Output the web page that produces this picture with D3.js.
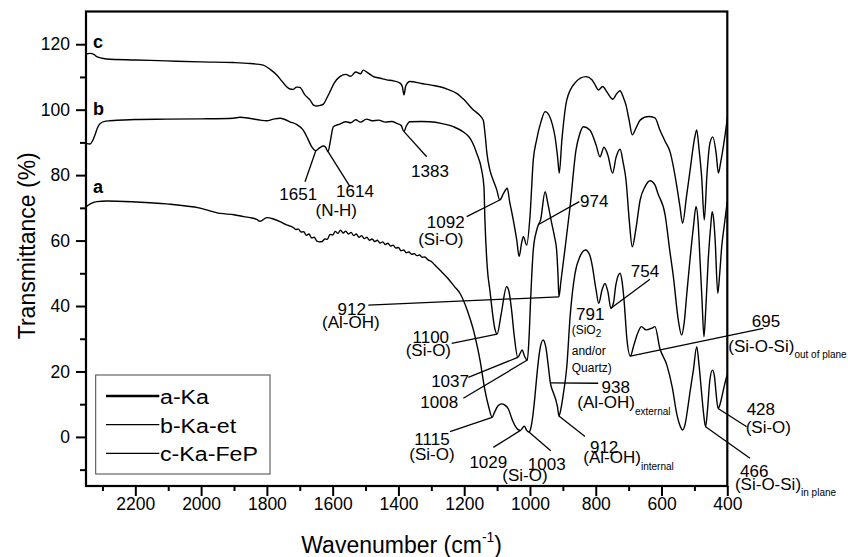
<!DOCTYPE html>
<html>
<head>
<meta charset="utf-8">
<script src="https://cdn.jsdelivr.net/npm/d3@7"></script>
<style>
  body { margin: 0; background: #fff; }
  svg text { font-family: "Liberation Sans", Arial, Helvetica, sans-serif; fill: #000; }
</style>
</head>
<body>
<svg id="chart" width="848" height="557"></svg>
<script>
// FTIR spectra: [wavenumber (cm-1), transmittance (%)], offset vertically per sample
const kaSeries = [
  [2350,70.3],[2337,71.2],[2317,71.9],[2287,72.1],[2200,71.8],[2105,71.2],[2003,69.9],[1942,68.3],[1900,67.9],
  [1870,67.3],[1845,66.9],[1831,66.5],[1821,65.9],[1800,67.0],[1780,66.6],[1760,65.8],[1740,64.8],[1728,64.4],
  [1720,64.0],[1712,63.4],[1704,63.5],[1696,62.6],[1688,62.7],[1680,61.6],[1672,62.0],[1664,60.8],[1656,61.0],
  [1648,59.8],[1640,59.6],[1632,59.7],[1624,60.5],[1616,60.4],[1608,61.9],[1600,61.7],[1592,62.8],[1584,62.2],
  [1576,63.2],[1568,62.3],[1560,62.9],[1552,62.0],[1544,62.5],[1536,61.5],[1528,62.0],[1520,61.0],[1512,61.5],
  [1504,60.6],[1496,61.0],[1488,60.1],[1480,60.5],[1472,59.7],[1464,60.1],[1456,59.2],[1448,59.6],[1440,58.8],
  [1432,59.2],[1424,58.3],[1416,58.6],[1408,57.7],[1400,57.9],[1392,56.9],[1384,57.1],[1376,56.3],[1368,56.5],
  [1360,55.8],[1352,56.0],[1344,55.4],[1336,55.6],[1328,54.9],[1320,55.0],[1310,54.1],[1300,53.6],[1290,52.6],
  [1274,51.0],[1250,48.5],[1230,46.0],[1213,43.9],[1190,38.5],[1172,32.7],[1160,27.5],[1152,23.5],[1137,14.3],
  [1125,9.0],[1115,6.0],[1108,7.5],[1097,9.5],[1086,10.1],[1077,9.8],[1066,8.6],[1053,5.0],[1040,2.6],[1029,2.0],
  [1017,3.3],[1010,2.0],[1003,1.5],[998,2.5],[991,6.7],[985,12.3],[979,18.9],[970,26.6],[960,29.6],[952,27.5],
  [944,21.5],[938,16.5],[930,13.8],[922,11.5],[916,9.0],[912,6.4],[906,8.5],[899,12.8],[888,21.5],[878,36.7],
  [863,50.0],[848,55.1],[831,57.1],[818,55.5],[811,52.5],[799,44.9],[791,40.8],[781,44.9],[772,46.9],[763,44.3],
  [754,39.3],[746,41.0],[739,46.4],[726,50.0],[720,47.5],[714,41.8],[705,29.6],[695,24.7],[684,28.1],[672,31.8],
  [661,33.7],[647,32.7],[630,33.2],[620,33.7],[605,27.0],[584,22.0],[567,15.0],[554,7.2],[544,3.5],[536,2.1],
  [528,4.0],[520,9.0],[514,13.3],[503,20.5],[493,27.6],[486,22.0],[478,13.3],[472,7.0],[466,3.1],[460,8.5],
  [453,17.4],[445,20.4],[439,18.5],[435,14.3],[428,8.7],[422,10.0],[412,14.3],[402,18.4],[400,19.0]
];

const kaEtSeries = [
  [2350,89.7],[2338,89.5],[2330,90.5],[2323,92.2],[2315,94.5],[2307,95.8],[2290,96.5],[2277,96.6],[2200,97.0],
  [2105,97.1],[2000,97.2],[1902,97.4],[1882,97.7],[1850,97.3],[1820,96.8],[1800,96.6],[1780,97.1],[1760,97.4],
  [1745,97.0],[1730,96.3],[1710,95.5],[1690,93.8],[1675,91.0],[1664,88.7],[1651,87.5],[1640,88.3],[1628,88.9],
  [1622,88.6],[1614,87.2],[1606,91.0],[1598,94.8],[1578,95.6],[1560,96.3],[1545,96.0],[1530,96.9],[1515,96.2],
  [1497,97.1],[1480,96.6],[1460,96.8],[1440,96.2],[1420,96.4],[1405,95.8],[1392,95.2],[1383,93.3],[1376,95.0],
  [1365,96.3],[1330,96.4],[1304,96.3],[1270,95.8],[1233,94.8],[1200,93.0],[1182,91.2],[1162,86.7],[1147,81.6],
  [1140,76.5],[1137,66.3],[1130,52.0],[1122,44.9],[1106,32.7],[1100,31.4],[1088,37.3],[1071,45.9],[1064,44.5],
  [1056,38.8],[1048,31.0],[1037,24.3],[1030,25.5],[1024,26.6],[1016,24.5],[1008,23.5],[1003,30.0],[998,42.0],
  [990,57.1],[980,63.0],[974,64.9],[968,66.2],[954,74.9],[946,71.5],[934,65.3],[925,61.0],[919,57.1],[915,50.0],
  [912,42.8],[906,47.5],[894,57.1],[878,70.4],[860,87.7],[849,92.5],[838,94.8],[818,93.8],[799,89.2],[787,85.6],
  [775,88.5],[763,86.1],[749,80.6],[738,85.5],[726,87.9],[717,84.0],[708,78.5],[698,66.0],[689,58.1],[678,63.5],
  [665,72.4],[650,76.5],[635,78.3],[620,77.0],[611,74.4],[589,67.8],[575,57.0],[564,49.0],[549,35.7],[539,31.1],
  [531,35.0],[523,43.9],[503,64.2],[495,70.4],[489,66.0],[483,54.1],[477,42.0],[471,30.6],[465,40.0],[458,54.1],
  [450,65.0],[446,68.8],[441,66.0],[437,60.2],[429,43.9],[423,50.0],[417,58.1],[410,64.0],[402,70.4],[400,72.0]
];

const kaFePSeries = [
  [2350,117.0],[2338,117.2],[2325,116.8],[2317,116.2],[2300,115.7],[2287,115.5],[2200,115.2],[2105,114.9],
  [2000,114.6],[1902,114.4],[1850,114.1],[1811,113.6],[1790,112.3],[1770,110.6],[1755,108.8],[1740,107.0],
  [1730,106.3],[1720,106.2],[1710,106.9],[1700,106.8],[1685,104.6],[1669,103.0],[1658,101.4],[1648,101.1],
  [1638,101.3],[1628,101.7],[1618,103.5],[1608,105.5],[1595,108.2],[1578,110.1],[1560,110.8],[1545,110.2],
  [1530,111.5],[1515,111.0],[1507,112.1],[1495,111.4],[1476,110.1],[1455,109.6],[1436,109.1],[1415,108.8],
  [1395,108.1],[1388,107.0],[1383,104.5],[1378,107.2],[1365,108.6],[1330,108.0],[1300,107.5],[1274,107.0],
  [1250,106.2],[1223,105.0],[1200,103.0],[1172,99.9],[1155,98.5],[1142,96.8],[1136,92.0],[1131,86.7],
  [1122,81.6],[1112,78.5],[1101,75.5],[1092,72.4],[1080,74.5],[1069,76.0],[1062,72.0],[1055,68.5],[1051,66.4],
  [1040,60.0],[1033,55.1],[1025,59.5],[1020,61.2],[1010,58.6],[1000,67.3],[990,84.6],[980,90.7],[966,96.5],
  [954,99.4],[942,98.3],[932,95.5],[924,91.8],[916,85.5],[911,80.6],[903,90.7],[888,103.0],[863,108.2],
  [830,110.1],[811,109.1],[800,107.2],[792,106.0],[779,107.1],[766,105.4],[748,103.2],[737,104.8],[726,105.8],
  [717,104.0],[708,101.4],[698,96.5],[689,92.3],[677,94.5],[665,96.8],[640,97.9],[620,97.5],[605,93.8],
  [590,90.5],[574,87.1],[555,77.5],[544,70.4],[536,65.3],[524,73.5],[513,81.6],[500,91.0],[493,93.8],[486,88.0],
  [478,79.5],[470,66.3],[462,80.0],[453,89.7],[444,91.7],[434,86.7],[427,80.6],[420,84.0],[412,88.7],
  [402,95.8],[400,97.5]
];

const xMajorTicks = [2200, 2000, 1800, 1600, 1400, 1200, 1000, 800, 600, 400];
const xMinorTicks = [2300, 2100, 1900, 1700, 1500, 1300, 1100, 900, 700, 500];
const yMajorTicks = [0, 20, 40, 60, 80, 100, 120];
const yMinorTicks = [-10, 10, 30, 50, 70, 90, 110];

const legendNames = ["a-Ka", "b-Ka-et", "c-Ka-FeP"];
const curveTags = ["a", "b", "c"];
const allSeries = [kaSeries, kaEtSeries, kaFePSeries];

// Band assignments: series index, band position, label lines and leader start (data units)
const annotations = [
  { series: 1, band: 1651, from: [1684, 78.0], lines: [{ at: [1704.5, 72.4], parts: ["1651"] }] },
  { series: 1, band: 1614, from: [1547.3, 76.5], lines: [
      { at: [1532, 73.4], parts: ["1614"] },
      { at: [1589, 67.4], parts: ["(N-H)"] }] },
  { series: 1, band: 1383, from: [1314, 85.6], lines: [{ at: [1304, 79.5], parts: ["1383"] }] },
  { series: 2, band: 1092, from: [1192.4, 67.3], lines: [
      { at: [1256, 63.8], parts: ["1092"] },
      { at: [1271, 58.7], parts: ["(Si-O)"] }] },
  { series: 1, band: 974, from: [850, 71.9], lines: [{ at: [804.4, 70.3], parts: ["974"] }] },
  { series: 1, band: 912, from: [1491.6, 40.3], lines: [
      { at: [1542, 37.3], parts: ["912"] },
      { at: [1544.8, 33.2], parts: ["(Al-OH)"] }] },
  { series: 1, band: 1100, from: [1238, 28.6], lines: [
      { at: [1301.6, 28.6], parts: ["1100"] },
      { at: [1309, 24.6], parts: ["(Si-O)"] }] },
  { series: 1, band: 1037, from: [1187.5, 18.2], lines: [{ at: [1243, 15.3], parts: ["1037"] }] },
  { series: 1, band: 1008, from: [1202.7, 11.8], lines: [{ at: [1276, 8.7], parts: ["1008"] }] },
  { series: 0, band: 1115, from: [1243.2, 1.6], lines: [
      { at: [1298, -2.5], parts: ["1115"] },
      { at: [1298, -7.0], parts: ["(Si-O)"] }] },
  { series: 0, band: 1029, from: [1111.5, -3.2], lines: [
      { at: [1126.7, -9.6], parts: ["1029"] },
      { at: [1015.1, -13.6], parts: ["(Si-O)"] }] },
  { series: 0, band: 1003, from: [937, -4.2], lines: [{ at: [949.2, -10.1], parts: ["1003"] }] },
  { series: 0, band: 938, from: [792.3, 16.4], lines: [
      { at: [739, 13.3], parts: ["938"] },
      { at: [856.1, 8.8], anchor: "start", parts: ["(Al-OH)", { sub: "external" }] }] },
  { series: 0, band: 912, from: [832.7, 0.1], lines: [
      { at: [774.5, -5.0], parts: ["912"] },
      { at: [837.8, -8.0], anchor: "start", parts: ["(Al-OH)", { sub: "internal" }] }] },
  { series: 0, band: 754, from: [635.1, 48.2], lines: [{ at: [650.3, 49.0], parts: ["754"] }] },
  { series: null, lines: [
      { at: [816.6, 35.7], parts: ["791"] },
      { at: [873.1, 31.4], anchor: "start", small: true, parts: ["(SiO", { sub: "2", small: true }] },
      { at: [873.1, 25.0], anchor: "start", small: true, parts: ["and/or"] },
      { at: [873.1, 19.7], anchor: "start", small: true, parts: ["Quartz)"] }] },
  { series: 0, band: 695, from: [290.5, 33.2], lines: [
      { at: [282.3, 33.7], parts: ["695"] },
      { at: [397, 26.1], anchor: "start", parts: ["(Si-O-Si)", { sub: "out of plane" }] }] },
  { series: 0, band: 428, from: [341, 3.1], lines: [
      { at: [298, 6.7], parts: ["428"] },
      { at: [275.3, 1.1], parts: ["(Si-O)"] }] },
  { series: 0, band: 466, from: [331, -6.5], lines: [
      { at: [318.2, -12.2], parts: ["466"] },
      { at: [376.7, -16.2], anchor: "start", parts: ["(Si-O-Si)", { sub: "in plane" }] }] }
];

// ---- layout ----
const W = 848, H = 557;
const plot = { left: 86, right: 727.3, top: 11.5, bottom: 486 };

const svg = d3.select("#chart");
svg.append("rect").attr("width", W).attr("height", H).attr("fill", "#fff");

const x = d3.scaleLinear().domain([2350, 400]).range([plot.left, plot.right]);
const y = d3.scaleLinear().domain([-15, 130]).range([plot.bottom, plot.top]);

// value of a spectrum at a given wavenumber (linear between samples)
function valueAt(series, w) {
  for (let i = 0; i < series.length - 1; i++) {
    const [w0, v0] = series[i], [w1, v1] = series[i + 1];
    if (w <= w0 && w >= w1) return w0 === w1 ? v0 : v0 + (v1 - v0) * (w0 - w) / (w0 - w1);
  }
  return series[series.length - 1][1];
}

// ---- axes ----
function styleAxis(g, fontSize) {
  g.select(".domain").remove();
  g.selectAll(".tick line").attr("stroke", "#000").attr("stroke-width", 2);
  g.selectAll(".tick text").style("font-size", fontSize + "px").attr("fill", "#000");
}

svg.append("g").attr("transform", `translate(0,${plot.bottom})`)
  .call(d3.axisBottom(x).tickValues(xMinorTicks).tickSize(5).tickFormat(""))
  .call(g => styleAxis(g, 17.5));
svg.append("g").attr("transform", `translate(0,${plot.bottom})`)
  .call(d3.axisBottom(x).tickValues(xMajorTicks).tickSize(10).tickPadding(2).tickFormat(d3.format("d")))
  .call(g => styleAxis(g, 17.5));

svg.append("g").attr("transform", `translate(${plot.left},0)`)
  .call(d3.axisLeft(y).tickValues(yMinorTicks).tickSize(6).tickFormat(""))
  .call(g => styleAxis(g, 17.5));
svg.append("g").attr("transform", `translate(${plot.left},0)`)
  .call(d3.axisLeft(y).tickValues(yMajorTicks).tickSize(10).tickPadding(6).tickFormat(d3.format("d")))
  .call(g => styleAxis(g, 17.5));

// axis titles
const xTitle = svg.append("text")
  .attr("x", (plot.left + plot.right) / 2 - 5).attr("y", 553)
  .attr("text-anchor", "middle").style("font-size", "23px");
xTitle.append("tspan").text("Wavenumber (cm");
xTitle.append("tspan").attr("dy", -11).style("font-size", "14px").text("-1");
xTitle.append("tspan").attr("dy", 11).text(")");

svg.append("text")
  .attr("transform", `translate(35,${(plot.top + plot.bottom) / 2 - 3}) rotate(-90)`)
  .attr("text-anchor", "middle").style("font-size", "23px")
  .text("Transmittance (%)");

// ---- spectra ----
const line = d3.line()
  .x(d => x(d[0])).y(d => y(d[1]))
  .curve(d3.curveMonotoneX);

svg.append("g").selectAll("path").data(allSeries).join("path")
  .attr("d", line)
  .attr("fill", "none").attr("stroke", "#000")
  .attr("stroke-width", 1.4).attr("stroke-linejoin", "round");

// sample tags at the left of each trace
const tagLevels = [74.5, 98.4, 118.8];
svg.append("g").selectAll("text").data(curveTags).join("text")
  .attr("x", x(2328.7)).attr("y", (d, i) => y(tagLevels[i]))
  .style("font-size", "18px").style("font-weight", "bold")
  .text(d => d);

// ---- band annotations ----
const ann = svg.append("g");
annotations.forEach(a => {
  if (a.series !== null) {
    const s = allSeries[a.series];
    ann.append("line")
      .attr("x1", x(a.from[0])).attr("y1", y(a.from[1]))
      .attr("x2", x(a.band)).attr("y2", y(valueAt(s, a.band)))
      .attr("stroke", "#000").attr("stroke-width", 1.3);
  }
  a.lines.forEach(l => {
    const t = ann.append("text")
      .attr("x", x(l.at[0])).attr("y", y(l.at[1]))
      .attr("text-anchor", l.anchor || "middle")
      .style("font-size", (l.small ? 12 : 17) + "px");
    l.parts.forEach(p => {
      if (typeof p === "string") t.append("tspan").text(p);
      else t.append("tspan")
        .attr("dy", p.small ? 3 : 6.5)
        .style("font-size", "10px")
        .text(p.sub);
    });
  });
});

// ---- frame ----
svg.append("rect")
  .attr("x", plot.left).attr("y", plot.top)
  .attr("width", plot.right - plot.left).attr("height", plot.bottom - plot.top)
  .attr("fill", "none").attr("stroke", "#000").attr("stroke-width", 2.2);

// ---- legend ----
const legend = svg.append("g").attr("transform", "translate(95.7,375)");
legend.append("rect").attr("width", 174.3).attr("height", 99)
  .attr("fill", "#fff").attr("stroke", "#444").attr("stroke-width", 1);
legendNames.forEach((name, i) => {
  const cy = 21 + i * 28.7;
  legend.append("line")
    .attr("x1", 10.3).attr("x2", 63.6).attr("y1", cy).attr("y2", cy)
    .attr("stroke", "#000").attr("stroke-width", i === 0 ? 2.3 : 1.3);
  const t = legend.append("text")
    .attr("x", 64.3).attr("y", cy + 8)
    .style("font-size", "20px").text(name);
  const len = t.node().getComputedTextLength();
  t.attr("textLength", len * 1.16).attr("lengthAdjust", "spacingAndGlyphs");
});
</script>
</body>
</html>
